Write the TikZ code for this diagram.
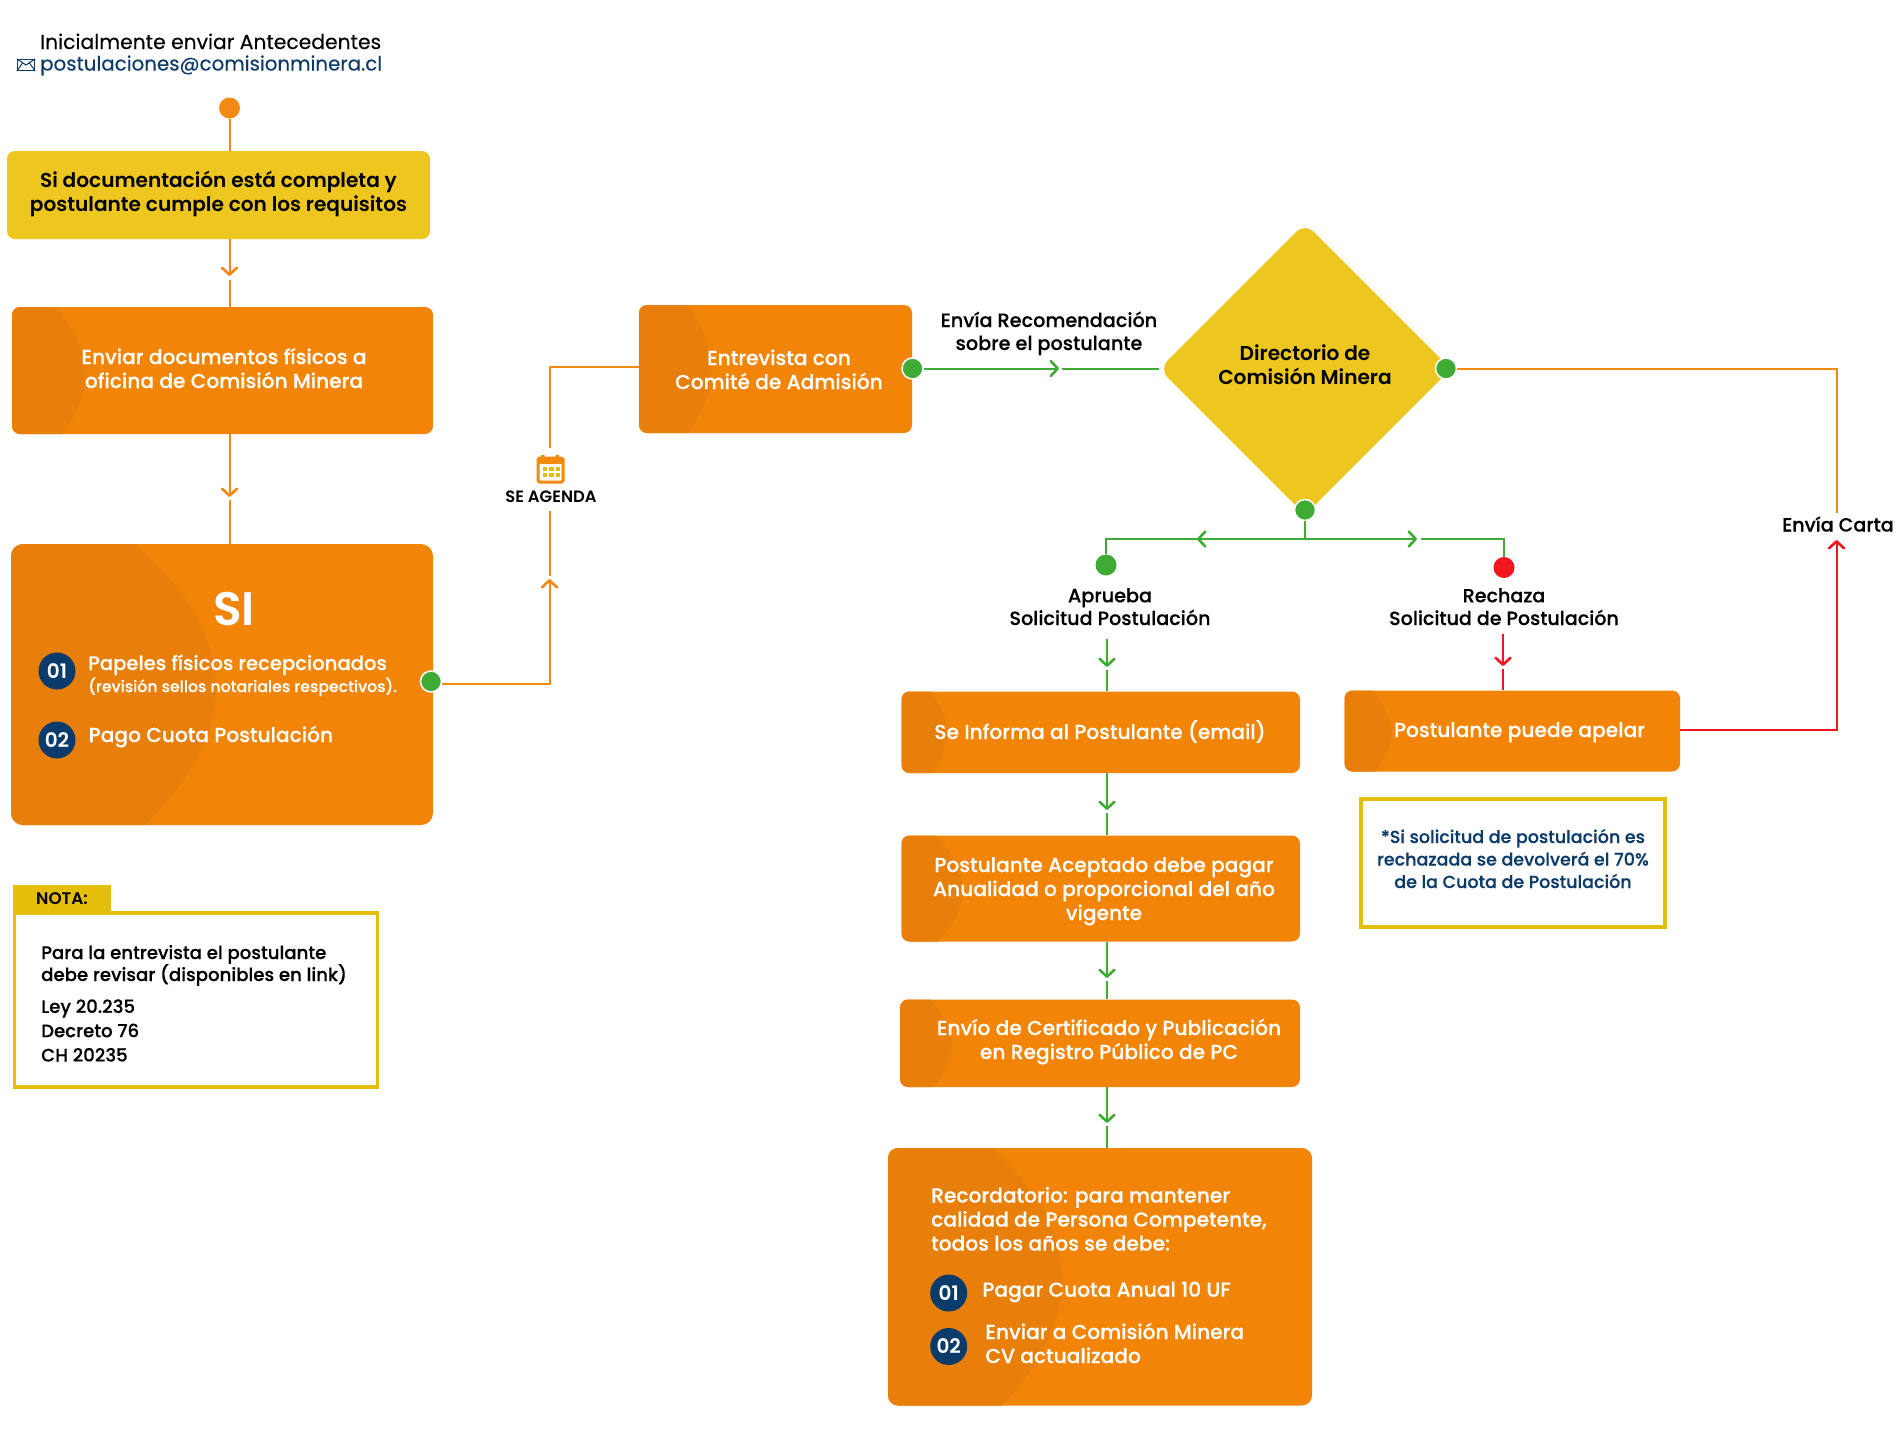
\documentclass[tikz,border=0pt]{standalone}
\usepackage{fontspec}
\usetikzlibrary{shapes.geometric,arrows.meta,calc}
\setmainfont{Poppins}
\newfontfamily\preg{Poppins}[FakeBold=0.2]
\newfontfamily\pmed{Poppins Medium}[FakeBold=0.3]
\newfontfamily\psemi{Poppins SemiBold}
\definecolor{ora}{HTML}{F28507}
\definecolor{oradark}{HTML}{E87F0B}
\definecolor{oline}{HTML}{F28A12}
\definecolor{gre}{HTML}{3FAB35}
\definecolor{redd}{HTML}{F2161E}
\definecolor{yel}{HTML}{EDC620}
\definecolor{yelb}{HTML}{E5BE0B}
\definecolor{nav}{HTML}{0B3B6B}
\newcommand\pM[2]{\pmed\fontsize{#1}{#2}\selectfont}
\newcommand\pS[2]{\psemi\fontsize{#1}{#2}\selectfont}
\newcommand\pR[2]{\preg\fontsize{#1}{#2}\selectfont}
\def\boxr{8}
\tikzset{
  box/.style={rectangle,rounded corners=\boxr,inner sep=0,fill=ora,draw=none},
  wt/.style={inner sep=0,align=center,text=white,anchor=base,font=\pM{20.2}{24}},
  bk/.style={inner sep=0,align=center,text=black,anchor=base,font=\pM{18.15}{22}},
  num/.style={circle,fill=nav,inner sep=0,minimum size=37,text=white,font=\pS{20}{23}},
  gdot/.style={circle,fill=gre,draw=white,line width=1.5,inner sep=0,minimum size=21},
  lo/.style={draw=oline,line width=2},
  lg/.style={draw=gre,line width=2},
  lr/.style={draw=redd,line width=2},
  tip/.style={-{Straight Barb[length=7,width=15,line width=2.6,round]}},
}
% name, x1,y1,x2,y2, arc top x, arc max x, arc bottom x
\newcommand\obox[8]{%
  \pgfmathsetmacro\bw{#4-#2}\pgfmathsetmacro\bh{#5-#3}%
  \pgfmathsetmacro\cx{(#2+#4)/2}\pgfmathsetmacro\cy{(#3+#5)/2}%
  \pgfmathsetmacro\ct{(#7-(#6+#8)/8)*4/3}%
  \pgfmathsetmacro\ya{#3+\bh/3}\pgfmathsetmacro\yb{#5-\bh/3}%
  \node[box,minimum width=\bw pt,minimum height=\bh pt] (#1) at (\cx,\cy) {};
  \begin{scope}
    \clip[rounded corners=\boxr] (#2,#3) rectangle (#4,#5);
    \fill[oradark] (#2,#3) -- (#6,#3) .. controls (\ct,\ya) and (\ct,\yb) .. (#8,#5) -- (#2,#5) -- cycle;
  \end{scope}}
\begin{document}
\begin{tikzpicture}[x=1pt,y=-1pt]
\useasboundingbox (0,0) rectangle (1900,1452);
\fill[white] (0,0) rectangle (1900,1452);

% header
\node[inner sep=0,anchor=base west,font=\pR{20.3}{24}] (ini) at (40,49) {Inicialmente enviar Antecedentes};
\node[inner sep=0,anchor=base west,font=\pR{19.8}{24},text=nav] (mail) at (40,70.5) {postulaciones@comisionminera.cl};
\node[draw=nav,line width=1.2,inner sep=0,minimum width=17,minimum height=11] (env) at (26,65) {};
\draw[nav,line width=1] (env.north west) -- (env.center) -- (env.north east) (env.south west) -- (22.5,63) (env.south east) -- (29.5,63);

\node[circle,fill=oline,inner sep=0,minimum size=21] (start) at (229.5,108) {};

% yellow start box
\node[box,fill=yel,minimum width=423,minimum height=88] (yb) at (218.5,195) {};
\node[bk,font=\pS{20.1}{24}] (ybt) at (218.5,211) {Si documentación está completa y\\postulante cumple con los requisitos};

\obox{b2}{12}{307}{433}{434}{55}{85}{62}
\node[wt] (b2t) at (224,388) {Enviar documentos físicos a\\oficina de Comisión Minera};

\def\boxr{12}
\obox{b3}{11}{544}{433}{825}{135}{216}{145}
\def\boxr{8}
\node[inner sep=0,anchor=base,text=white,font=\pS{47}{50}] (si) at (234,625) {SI};
\node[num] (n1) at (57,671) {01};
\node[num] (n2) at (57,740) {02};
\node[wt,anchor=base west,font=\pM{19.6}{24}] (p1) at (88,670) {Papeles físicos recepcionados};
\node[wt,anchor=base west,font=\pM{15.7}{18}] (p1b) at (88,692) {(revisión sellos notariales respectivos).};
\node[wt,anchor=base west] (p2) at (88.5,742) {Pago Cuota Postulación};

% nota
\node[fill=yelb,inner sep=0,minimum width=98,minimum height=28,font=\pS{16.8}{20}] (nota) at (62,899) {NOTA:};
\node[draw=yelb,line width=3.5,inner sep=0,minimum width=363,minimum height=174] (notab) at (196,1000) {};
\node[bk,anchor=base west,align=left] (n1t) at (41,981) {Para la entrevista el postulante\\debe revisar (disponibles en link)};
\node[bk,anchor=base west,align=left,font=\pM{18.15}{24.3}] (n2t) at (41,1061.5) {Ley 20.235\\Decreto 76\\CH 20235};

% entrevista
\obox{ent}{639}{305}{912}{433}{687}{711.5}{688}
\node[wt] (entt) at (779,389) {Entrevista con\\Comité de Admisión};
% calendar icon
\node[inner sep=0,minimum width=25,minimum height=24,fill=white,draw=oline,line width=3,rounded corners=1.5] (cal) at (550.5,470) {};
\fill[oline] (537.5,458) rectangle (564,464);
\fill[oline] (541,455) rectangle (544.5,459) (555.5,455) rectangle (559,459);
\foreach \xx in {542.5,549,555.5}{\foreach \yy in {467,473}{\fill[yelb] (\xx,\yy) rectangle ++(4.5,4);}}
\node[bk,font=\pS{16.4}{18}] (ag) at (551,502.5) {SE AGENDA};

% diamond
\node[diamond,aspect=1,fill=yel,rounded corners=12,inner sep=0,minimum width=292,minimum height=292] (dir) at (1305,369) {};
\node[bk,font=\pS{20.1}{24}] (dirt) at (1305,384) {Directorio de\\Comisión Minera};
\node[gdot] (d0) at (912.5,368.5) {};
\node[gdot] (d1) at (1446,368.5) {};
\node[gdot] (d2) at (1305,510) {};
\node[gdot] (d3) at (431,681.5) {};
\node[bk,font=\pM{19.25}{23}] (rec) at (1049,350) {Envía Recomendación\\sobre el postulante};
\node[bk,font=\pM{19.1}{23},text=black] (car) at (1838,531.5) {Envía Carta};
\node[gdot,draw=none] (ap) at (1106,565) {};
\node[circle,fill=redd,inner sep=0,minimum size=21] (re) at (1504,567.5) {};
\node[bk,font=\pM{19.2}{22.7}] (apt) at (1110,625) {Aprueba\\Solicitud Postulación};
\node[bk,font=\pM{19.1}{22.7}] (ret) at (1504,625) {Rechaza\\Solicitud de Postulación};

% right boxes
\obox{inf}{901.5}{691.5}{1300}{773}{930}{947}{932}
\node[wt] (inft) at (1100,739) {Se Informa al Postulante (email)};
\obox{ace}{901.5}{835.5}{1300}{941.5}{935}{963}{938}
\node[wt] (acet) at (1104,920) {Postulante Aceptado debe pagar\\Anualidad o proporcional del año\\vigente};
\obox{env2}{900}{999.5}{1300}{1087}{930}{952}{933}
\node[wt] (envt) at (1109,1059) {Envío de Certificado y Publicación\\en Registro Público de PC};
\def\boxr{10}
\obox{rem}{888}{1148}{1312}{1405.5}{993}{1062}{1002}
\def\boxr{8}
\node[wt,anchor=base west,align=left] (remt) at (931,1250.5) {Recordatorio: para mantener\\calidad de Persona Competente,\\todos los años se debe:};
\node[num] (r1) at (948.7,1293) {01};
\node[num] (r2) at (948.7,1346.5) {02};
\node[wt,anchor=base west] (r1t) at (982.2,1296.7) {Pagar Cuota Anual 10 UF};
\node[wt,anchor=base west,align=left] (r2t) at (985.2,1363) {Enviar a Comisión Minera\\CV actualizado};
\obox{ape}{1344.5}{690.5}{1680}{771.5}{1372}{1391}{1375}
\node[wt] (apet) at (1519.5,737) {Postulante puede apelar};
\node[draw=yelb,line width=3.5,inner sep=0,minimum width=304,minimum height=128] (nb) at (1513,863) {};
\node[bk,text=nav,font=\pM{17.5}{22.5}] (nbt) at (1513,888) {*Si solicitud de postulación es\\rechazada se devolverá el 70\%\\de la Cuota de Postulación};

% connectors
\coordinate (o1) at (229.5,276);\coordinate (o1g) at (229.5,280);
\coordinate (o2) at (229.5,497);\coordinate (o2g) at (229.5,500);
\draw[lo] (start) -- (yb.north -| start);
\draw[lo,tip] (yb.south -| start) -- (o1);
\draw[lo] (o1g) -- (b2.north -| o1);
\draw[lo,tip] (b2.south -| o1) -- (o2);
\draw[lo] (o2g) -- (b3.north -| o2);

\coordinate (a1) at (549.5,579);\coordinate (a1g) at (549.5,576);
\coordinate (a2) at (549.5,510.5);\coordinate (a3) at (549.5,448);
\coordinate (a0) at (549.5,683.5);
\draw[lo,tip] (d3.east |- a0) -- (a0) -- (a1);
\draw[lo] (a1g) -- (a2);
\draw[lo] (a3) -- (549.5,366.5) -- (ent.west |- 0,366.5);

\coordinate (c1) at (1059,368.5);\coordinate (c1g) at (1062,368.5);
\draw[lg,tip] (d0.east) -- (c1);
\draw[lg] (c1g) -- (dir.west |- c1);
\draw[lo] (d1.east) -- (1836.5,368.5) -- (1836.5,513);
\coordinate (r1a) at (1836.5,540);
\draw[lr,tip] (ape.east |- 0,729.5) -- (1836.5,729.5) -- (r1a);

\coordinate (h0) at (1305,539);
\coordinate (hl) at (1197,539);\coordinate (hlg) at (1202,539);
\coordinate (hr) at (1417,539);\coordinate (hrg) at (1421,539);
\draw[lg] (d2.south) -- (h0);
\draw[lg,tip] (h0) -- (hr);
\draw[lg] (hrg) -- (1504,539) -- (re.north);
\draw[lg,tip] (h0) -- (hl);
\draw[lg] (hlg) -- (1106,539) -- (ap.north);

\coordinate (s1) at (1107,667);\coordinate (s1g) at (1107,670);
\draw[lg,tip] (1107,639) -- (s1);
\draw[lg] (s1g) -- (inf.north -| s1);
\coordinate (s2) at (1107,810);\coordinate (s2g) at (1107,813);
\draw[lg,tip] (inf.south -| s2) -- (s2);
\draw[lg] (s2g) -- (ace.north -| s2);
\coordinate (s3) at (1107,978);\coordinate (s3g) at (1107,981);
\draw[lg,tip] (ace.south -| s3) -- (s3);
\draw[lg] (s3g) -- (env2.north -| s3);
\coordinate (s4) at (1107,1123);\coordinate (s4g) at (1107,1126);
\draw[lg,tip] (env2.south -| s4) -- (s4);
\draw[lg] (s4g) -- (rem.north -| s4);

\coordinate (x1) at (1503,666);\coordinate (x1g) at (1503,669);
\draw[lr,tip] (1503,634) -- (x1);
\draw[lr] (x1g) -- (ape.north -| x1);
\end{tikzpicture}
\end{document}
